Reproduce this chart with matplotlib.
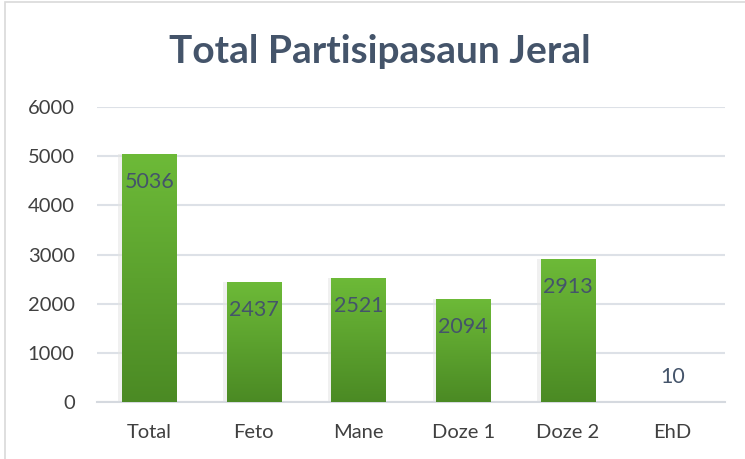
import numpy as np
import matplotlib.pyplot as plt
from matplotlib.patches import Rectangle
from matplotlib.colors import LinearSegmentedColormap
import matplotlib.patheffects as pe

categories = ['Total', 'Feto', 'Mane', 'Doze 1', 'Doze 2', 'EhD']
values = [5036, 2437, 2521, 2094, 2913, 10]

plt.rcParams['font.family'] = ['Lato', 'DejaVu Sans']

fig = plt.figure(figsize=(7.45, 4.59), dpi=100)
ax = fig.add_axes([0.130, 0.124, 0.843, 0.643])

x = np.arange(len(categories))
width = 0.52
bars = ax.bar(x, values, width, color='#5E9E30', zorder=2)

# vertical gradient on each bar, plus a soft shadow on the left
grad = np.linspace(0, 1, 256).reshape(-1, 1)
cmap = LinearSegmentedColormap.from_list('g', ['#4B8A24', '#6DBA38'])
for b in bars:
    b.set_path_effects([pe.SimplePatchShadow(offset=(-2.5, 0), shadow_rgbFace='#E3E3E3', alpha=0.5), pe.Normal()])
    im = ax.imshow(grad, extent=[b.get_x(), b.get_x() + b.get_width(), 0, b.get_height()],
                   origin='lower', cmap=cmap, aspect='auto', zorder=3)
    im.set_clip_path(b)

for xi, v in zip(x, values):
    off = -20 if v > 500 else 18
    ax.annotate(str(v), (xi, v), xytext=(0, off), textcoords='offset points',
                ha='center', va='center', fontsize=15.5, color='#44546A', zorder=4)

ax.set_xlim(-0.5, len(categories) - 0.5)
ax.set_ylim(0, 6000)
ax.set_yticks(range(0, 6001, 1000))
ax.set_xticks(x)
ax.set_xticklabels(categories)
ax.yaxis.grid(True, color='#DDE1E7', linewidth=1.5, zorder=0)
ax.set_axisbelow(True)
for s in ['top', 'right', 'left']:
    ax.spines[s].set_visible(False)
ax.spines['bottom'].set_color('#D5D9DF')
ax.spines['bottom'].set_linewidth(1.5)
ax.tick_params(length=0, labelsize=14.5, colors='#404040')
ax.tick_params(axis='x', pad=16)
ax.tick_params(axis='y', pad=16)

fig.text(0.51, 0.888, 'Total Partisipasaun Jeral', ha='center', va='center',
         fontsize=28, fontweight='bold', color='#44546A')

fig.patches.append(Rectangle((0.007, -0.01), 1.0, 1.005, transform=fig.transFigure,
                             fill=False, edgecolor='#D9D9D9', linewidth=1.2))

plt.savefig('out.png')
